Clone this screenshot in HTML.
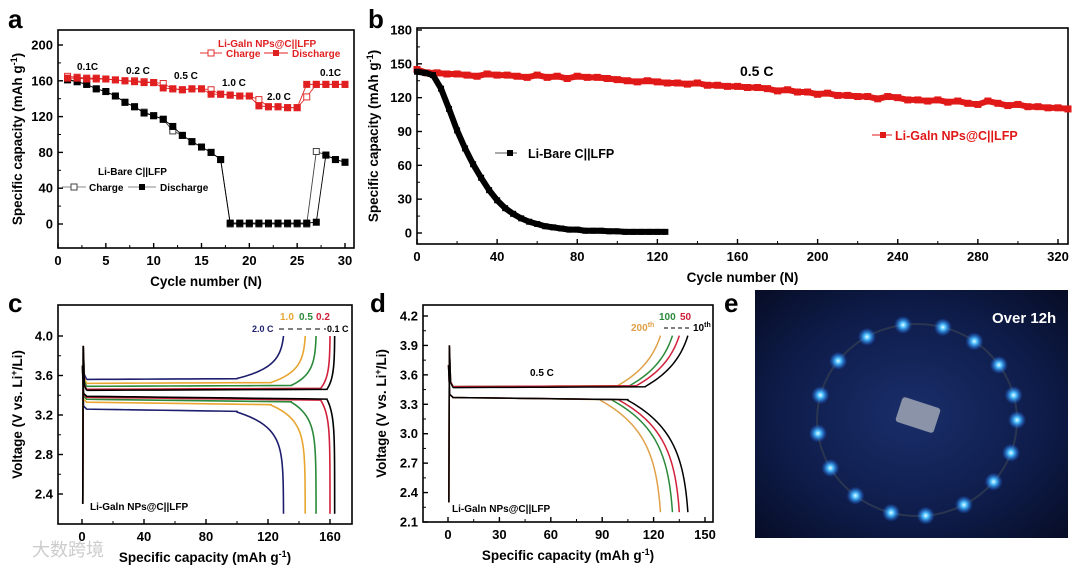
<!DOCTYPE html>
<html><head><meta charset="utf-8"><style>
html,body{margin:0;padding:0;background:#fff;}
svg{display:block;font-family:"Liberation Sans","Noto Sans CJK SC",sans-serif;}
text{font-weight:bold;}
</style></head><body>
<svg id="fig" width="1080" height="568" viewBox="0 0 1080 568" xmlns="http://www.w3.org/2000/svg">
<defs>
<radialGradient id="bg" cx="50%" cy="50%" r="70%"><stop offset="0" stop-color="#1a2e6a"/><stop offset="0.6" stop-color="#0e1c4a"/><stop offset="1" stop-color="#070d26"/></radialGradient>
<radialGradient id="glow"><stop offset="0" stop-color="#e8faff"/><stop offset="0.3" stop-color="#4fc3ff"/><stop offset="1" stop-color="#1a6cff" stop-opacity="0"/></radialGradient>
</defs>
<g id="pa"></g>
<g id="pb"></g>
<g id="pc"></g>
<g id="pd"></g>
<g id="pe">
<rect x="755" y="290" width="313" height="248" fill="url(#bg)"/>
<ellipse cx="917" cy="420" rx="100" ry="96" fill="none" stroke="#2a3550" stroke-width="2"/>
<rect x="898" y="402" width="40" height="26" rx="3" fill="#8a93a8" transform="rotate(18 918 415)"/>
<g id="leds"></g>
<text x="992" y="323" font-size="15" fill="#fff">Over 12h</text>
</g>
<text x="8" y="28" font-size="26">a</text>
<text x="368" y="28" font-size="26">b</text>
<text x="8" y="312" font-size="26">c</text>
<text x="370" y="312" font-size="26">d</text>
<text x="724" y="312" font-size="26">e</text>
<text x="32" y="556" font-size="18" fill="#ccc" style="font-weight:normal">大数跨境</text>
</svg>
<script>
// ---- Panel a data ----
const aCycles=[1,2,3,4,5,6,7,8,9,10,11,12,13,14,15,16,17,18,19,20,21,22,23,24,25,26,27,28,29,30];
const aRedDis=[163,163,162,162,162,161,160,159,158,158,152,151,150,151,151,145,145,144,143,143,132,131,131,130,130,156,156,156,156,156];
const aRedChg=[165,164,163,163,162,161,160,160,159,158,157,151,150,151,151,150,145,144,143,143,139,131,131,130,130,142,156,156,156,156];
const aBlkDis=[161,159,156,151,148,143,136,131,124,121,117,109,99,92,86,80,72,1,1,1,1,1,1,1,1,1,2,77,72,69];
const aBlkChg=[162,159,156,151,148,143,136,131,125,121,117,104,99,92,86,80,72,0,0,0,0,0,0,0,0,0,81,77,72,69];
const aXTicks=[0,5,10,15,20,25,30];
const aYTicks=[0,40,80,120,160,200];
// ---- Panel b data ----
const bRedCycles=[0,5,10,15,20,25,30,35,40,45,50,55,60,65,70,75,80,85,90,95,100,105,110,115,120,125,130,135,140,145,150,155,160,165,170,175,180,185,190,195,200,205,210,215,220,225,230,235,240,245,250,255,260,265,270,275,280,285,290,295,300,305,310,315,320,325];
const bRedVals=[145,142,142,141,141,140,139,141,140,140,139,138,140,138,139,137,139,138,138,137,136,135,134,135,134,133,133,132,133,131,131,130,130,129,129,128,126,127,125,125,123,124,122,122,121,121,119,121,120,118,118,117,118,116,117,115,114,117,115,113,114,112,112,111,111,110];
const bBlkCycles=[0,4,8,12,16,20,24,28,32,36,40,44,48,52,56,60,64,68,72,76,80,84,88,92,96,100,104,108,112,116,120,124];
const bBlkVals=[143,142,140,128,110,91,75,61,49,38,29,22,17,13,10,8,6,5,4,3,3,2,2,2,1.5,1.5,1,1,1,1,1,1];
const bXTicks=[0,40,80,120,160,200,240,280,320];
const bYTicks=[0,30,60,90,120,150,180];
// ---- Panel c data ----
const cRates=["2.0","1.0","0.5","0.2","0.1"];
const cCapacity=[130,144,151,160,163];
const cChgV=[3.56,3.52,3.49,3.46,3.45];
const cDisV=[3.26,3.33,3.36,3.38,3.39];
const cXTicks=[0,40,80,120,160];
const cYTicks=[2.4,2.8,3.2,3.6,4.0];
// ---- Panel d data ----
const dCycles=["200","100","50","10"];
const dCapacity=[124,131,135,140];
const dChgV=[3.48,3.48,3.48,3.47];
const dDisV=[3.37,3.37,3.37,3.37];
const dXTicks=[0,30,60,90,120,150];
const dYTicks=[2.1,2.4,2.7,3.0,3.3,3.6,3.9,4.2];

const NS="http://www.w3.org/2000/svg";
function mk(parent,tag,attrs,txt){const e=document.createElementNS(NS,tag);for(const k in attrs)e.setAttribute(k,attrs[k]);if(txt!==undefined)e.textContent=txt;parent.appendChild(e);return e;}
function lin(d0,d1,r0,r1){return v=>r0+(v-d0)*(r1-r0)/(d1-d0);}

function axes(g,box,xs,ys,xt,yt,xFmt,yFmt,xTitle,yTitle,name){
  const r=mk(g,'rect',{x:box.l,y:box.t,width:box.r-box.l,height:box.b-box.t,fill:'none',stroke:'#000','stroke-width':1.6});
  
  
  xt.forEach((v,i)=>{const x=xs(v);
    const l=mk(g,'line',{x1:x,x2:x,y1:box.b,y2:box.b-5,stroke:'#000','stroke-width':1.4});
    
    
    if(i<xt.length-1){const xm=xs((v+xt[i+1])/2);mk(g,'line',{x1:xm,x2:xm,y1:box.b,y2:box.b-3,stroke:'#000','stroke-width':1});}
    const t=mk(g,'text',{x:x,y:box.b+17,'font-size':13,'text-anchor':'middle'},xFmt(v));
    
    
  });
  yt.forEach((v,i)=>{const y=ys(v);
    const l=mk(g,'line',{x1:box.l,x2:box.l+5,y1:y,y2:y,stroke:'#000','stroke-width':1.4});
    
    
    if(i<yt.length-1){const ym=ys((v+yt[i+1])/2);mk(g,'line',{x1:box.l,x2:box.l+3,y1:ym,y2:ym,stroke:'#000','stroke-width':1});}
    const t=mk(g,'text',{x:box.l-5,y:y+4.5,'font-size':13,'text-anchor':'end'},yFmt(v));
    
    
  });
  const xtT=mk(g,'text',{x:(box.l+box.r)/2,y:box.b+38,'font-size':13.5,'text-anchor':'middle'});
  xtT.innerHTML=xTitle;
  
  
  const cy=(box.t+box.b)/2;
  const ytT=mk(g,'text',{x:box.yx,y:cy,'font-size':13.5,'text-anchor':'middle',transform:`rotate(-90 ${box.yx} ${cy})`});
  ytT.innerHTML=yTitle;
  
  
}
function lbl(g,x,y,s,txt,fill,name,anchor){const t=mk(g,'text',{x:x,y:y,'font-size':s,fill:fill||'#000','text-anchor':anchor||'start'});t.innerHTML=txt;
  
  return t;}

// ===== Panel a =====
(function(){
const g=document.getElementById('pa');
const box={l:58,r:354,t:30,b:248,yx:22};
const xs=lin(0,30,58,345), ys=lin(0,200,224,45);
axes(g,box,xs,ys,aXTicks,aYTicks,v=>v,v=>v,'Cycle number (N)','Specific capacity (mAh g<tspan dy="-5" font-size="9">-1</tspan><tspan dy="5">)</tspan>','panel-a');
function series(vals,col,filled,name){
  const pts=aCycles.map((c,i)=>xs(c)+','+ys(vals[i])).join(' ');
  const pl=mk(g,'polyline',{points:pts,fill:'none',stroke:col,'stroke-width':0.9});
  
  
  aCycles.forEach((c,i)=>{const m=mk(g,'rect',{x:xs(c)-3,y:ys(vals[i])-3,width:6,height:6,fill:filled?col:'#fff',stroke:col,'stroke-width':1});
    
    });
}
series(aBlkChg,'#444',false,'bare-charge');
series(aBlkDis,'#000',true,'bare-discharge');
series(aRedChg,'#e03030',false,'gain-charge');
series(aRedDis,'#e02020',true,'gain-discharge');
lbl(g,218,47,10,'Li-Galn NPs@C||LFP','#e02020','legend-a-gain-title');
mk(g,'line',{x1:200,x2:222,y1:53,y2:53,stroke:'#e03030'});mk(g,'rect',{x:208,y:50,width:6,height:6,fill:'#fff',stroke:'#e03030'});
lbl(g,226,57,10,'Charge','#e02020','legend-a-gain-charge');
mk(g,'line',{x1:264,x2:288,y1:53,y2:53,stroke:'#e02020'});mk(g,'rect',{x:273,y:50,width:6,height:6,fill:'#e02020'});
lbl(g,292,57,10,'Discharge','#e02020','legend-a-gain-discharge');
lbl(g,98,175,10,'Li-Bare C||LFP','#000','legend-a-bare-title');
mk(g,'line',{x1:62,x2:86,y1:187,y2:187,stroke:'#888'});mk(g,'rect',{x:71,y:184,width:6,height:6,fill:'#fff',stroke:'#444'});
lbl(g,89,191,10,'Charge','#000','legend-a-bare-charge');
mk(g,'line',{x1:128,x2:156,y1:187,y2:187,stroke:'#888'});mk(g,'rect',{x:139,y:184,width:6,height:6,fill:'#000'});
lbl(g,160,191,10,'Discharge','#000','legend-a-bare-discharge');
[['0.1C',77,70],['0.2 C',126,74],['0.5 C',174,79],['1.0 C',222,86],['2.0 C',267,100],['0.1C',320,76]].forEach(a=>lbl(g,a[1],a[2],10,a[0],'#000','rate-label'));
})();

// ===== Panel b =====
(function(){
const g=document.getElementById('pb');
const box={l:417,r:1068,t:28,b:244,yx:378};
const xs=lin(0,320,417,1058), ys=lin(0,180,233,30);
axes(g,box,xs,ys,bXTicks,bYTicks,v=>v,v=>v,'Cycle number (N)','Specific capacity (mAh g<tspan dy="-5" font-size="9">-1</tspan><tspan dy="5">)</tspan>','panel-b');
const rp=bRedCycles.map((c,i)=>xs(c)+','+ys(bRedVals[i])).join(' ');
const rl=mk(g,'polyline',{points:rp,fill:'none',stroke:'#e01818','stroke-width':6,'stroke-linejoin':'round'});


bRedCycles.forEach((c,i)=>{const m=mk(g,'rect',{x:xs(c)-3.5,y:ys(bRedVals[i])-3.5,width:7,height:7,fill:'#e01818'});
  
  });
const bp=bBlkCycles.map((c,i)=>xs(c)+','+ys(bBlkVals[i])).join(' ');
const bl=mk(g,'polyline',{points:bp,fill:'none',stroke:'#000','stroke-width':6,'stroke-linejoin':'round'});


bBlkCycles.forEach((c,i)=>{const m=mk(g,'rect',{x:xs(c)-3,y:ys(bBlkVals[i])-3,width:6,height:6,fill:'#000'});
  
  });
lbl(g,740,76,14,'0.5 C','#000','rate-label-b');
mk(g,'line',{x1:495,x2:517,y1:153,y2:153,stroke:'#555'});mk(g,'rect',{x:507,y:150,width:6,height:6,fill:'#000'});
lbl(g,528,158,12.5,'Li-Bare C||LFP','#000','legend-b-bare');
mk(g,'line',{x1:872,x2:892,y1:135,y2:135,stroke:'#e01818'});mk(g,'rect',{x:880,y:132,width:6,height:6,fill:'#e01818'});
lbl(g,895,140,12.5,'Li-Galn NPs@C||LFP','#e01818','legend-b-gain');
})();

// curve builders (shape only; capacity & plateau from data arrays)
function knee(Q,Vp,Vend,w,s,N){
  const p=[];const D=Vend-Vp;const E=Math.exp(-Math.abs(D)/s);
  for(let k=0;k<=N;k++){const u=k/N;const V=Vp+D*u;
    const x=Q-w*(Math.exp(-Math.abs(D)*u/s)-E)/(1-E);p.push([x,V]);}
  return p;}
function chargePts(Q,Vp,Vtop,xs,ys,w,s){const p=[[0.5,2.3],[0.8,3.9],[1.5,Vp+0.05],[3,Vp]];
  for(let k=0;k<=10;k++){const x=3+(Q-w-3)*k/10;p.push([x,Vp+0.01*(x/Q)]);}
  knee(Q,Vp+0.01,Vtop,w,s,40).forEach(a=>p.push(a));
  return p.map(a=>xs(a[0])+','+ys(a[1])).join(' ');}
function dischargePts(Q,Vp,Vbot,xs,ys,w,s){const p=[[0.3,3.7],[1,Vp+0.03],[3,Vp]];
  for(let k=0;k<=10;k++){const x=3+(Q-w-3)*k/10;p.push([x,Vp-0.03*(x/Q)]);}
  knee(Q,Vp-0.03,Vbot,w,s,40).forEach(a=>p.push(a));
  return p.map(a=>xs(a[0])+','+ys(a[1])).join(' ');}

// ===== Panel c =====
(function(){
const g=document.getElementById('pc');
const box={l:58,r:352,t:305,b:524,yx:22};
const xs=lin(0,160,82,330), ys=lin(2.4,4.0,494,336);
axes(g,box,xs,ys,cXTicks,cYTicks,v=>v,v=>v.toFixed(1),'Specific capacity (mAh g<tspan dy="-5" font-size="9">-1</tspan><tspan dy="5">)</tspan>','Voltage (V vs. Li<tspan dy="-5" font-size="9">+</tspan><tspan dy="5">/Li)</tspan>','panel-c');
const cols=['#1e1e6e','#e8a630','#2a8a3a','#d0203a','#000'];
cRates.forEach((r,i)=>{
  const w=[30,22,16,6,5][i];
  const c1=mk(g,'polyline',{points:chargePts(cCapacity[i],cChgV[i],4.0,xs,ys,w,0.12),fill:'none',stroke:cols[i],'stroke-width':1.6});
  
  
  const c2=mk(g,'polyline',{points:dischargePts(cCapacity[i],cDisV[i],2.2,xs,ys,w,0.15),fill:'none',stroke:cols[i],'stroke-width':1.6});
  
  
});
lbl(g,90,510,10,'Li-Galn NPs@C||LFP','#000','panel-c-sample-label');
lbl(g,280,320,10,'1.0','#e8a630','rate-label-1.0');lbl(g,299,320,10,'0.5','#2a8a3a','rate-label-0.5');lbl(g,316,320,10,'0.2','#d0203a','rate-label-0.2');
lbl(g,252,332,9,'2.0 C','#1e1e6e','rate-label-2.0');
mk(g,'line',{x1:279,x2:326,y1:329,y2:329,stroke:'#000','stroke-dasharray':'5 4'});
lbl(g,327,332,9,'0.1 C','#000','rate-label-0.1');
})();

// ===== Panel d =====
(function(){
const g=document.getElementById('pd');
const box={l:423,r:713,t:305,b:522,yx:386};
const xs=lin(0,150,448,705), ys=lin(2.1,4.2,522,316);
axes(g,box,xs,ys,dXTicks,dYTicks,v=>v,v=>v.toFixed(1),'Specific capacity (mAh g<tspan dy="-5" font-size="9">-1</tspan><tspan dy="5">)</tspan>','Voltage (V vs. Li<tspan dy="-5" font-size="9">+</tspan><tspan dy="5">/Li)</tspan>','panel-d');
const cols=['#e0a048','#2a8a3a','#d0203a','#000'];
dCycles.forEach((c,i)=>{
  const c1=mk(g,'polyline',{points:chargePts(dCapacity[i],dChgV[i],4.0,xs,ys,25,0.3),fill:'none',stroke:cols[i],'stroke-width':1.5});
  
  
  const c2=mk(g,'polyline',{points:dischargePts(dCapacity[i],dDisV[i],2.2,xs,ys,35,0.35),fill:'none',stroke:cols[i],'stroke-width':1.5});
  
  
});
lbl(g,530,376,10,'0.5 C','#000','panel-d-rate-label');
lbl(g,452,512,10,'Li-Galn NPs@C||LFP','#000','panel-d-sample-label');
lbl(g,659,320,10,'100','#2a8a3a','cycle-label-100');lbl(g,680,320,10,'50','#d0203a','cycle-label-50');
lbl(g,631,331,10,'200<tspan dy="-4" font-size="7">th</tspan>','#e0a048','cycle-label-200');
mk(g,'line',{x1:664,x2:692,y1:328,y2:328,stroke:'#000','stroke-dasharray':'4 3'});
lbl(g,693,331,10,'10<tspan dy="-4" font-size="7">th</tspan>','#000','cycle-label-10');
})();

// ===== Panel e LEDs =====
(function(){
const g=document.getElementById('leds');
const angles=[0,20,40,62,85,105,128,150,172,195,218,240,262,285,305,325,345];
angles.forEach(a=>{const r=a*Math.PI/180;const x=917+100*Math.cos(r),y=420+96*Math.sin(r);
  const c=mk(g,'circle',{cx:x,cy:y,r:9,fill:'url(#glow)'});
  
  });
})();
</script>
</body></html>
